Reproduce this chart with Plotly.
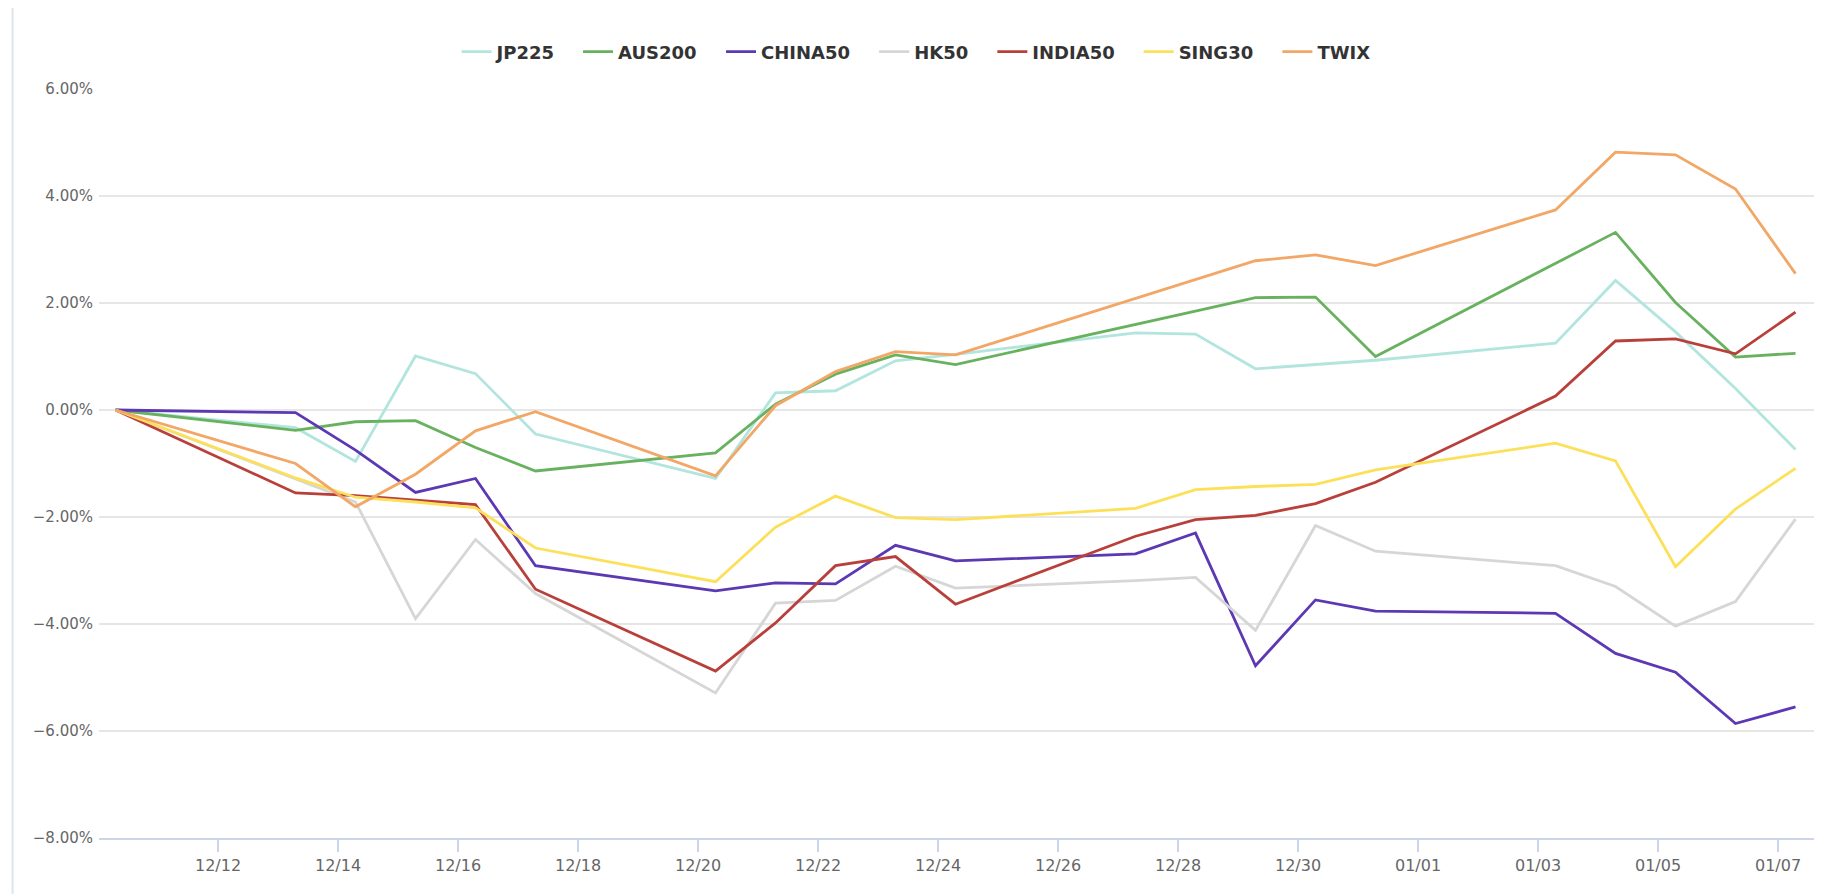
import plotly.graph_objects as go

dates = [
    "2021-12-10 07:00", "2021-12-13 07:00", "2021-12-14 07:00", "2021-12-15 07:00",
    "2021-12-16 07:00", "2021-12-17 07:00", "2021-12-20 07:00", "2021-12-21 07:00",
    "2021-12-22 07:00", "2021-12-23 07:00", "2021-12-24 07:00", "2021-12-27 07:00",
    "2021-12-28 07:00", "2021-12-29 07:00", "2021-12-30 07:00", "2021-12-31 07:00",
    "2022-01-03 07:00", "2022-01-04 07:00", "2022-01-05 07:00", "2022-01-06 07:00",
    "2022-01-07 07:00",
]

jp225 = [0, -0.33, -0.96, 1.01, 0.68, -0.45, -1.28, 0.32, 0.36, 0.92, 1.04,
         1.44, 1.42, 0.77, 0.85, 0.93, 1.25, 2.42, 1.46, 0.40, -0.74]
aus200 = [0, -0.38, -0.22, -0.20, -0.70, -1.14, -0.80, 0.11, 0.67, 1.03, 0.85,
          1.61, 1.85, 2.10, 2.11, 1.00, 2.74, 3.32, 2.01, 0.99, 1.06]
china50 = [0, -0.05, -0.75, -1.54, -1.28, -2.91, -3.38, -3.23, -3.25, -2.53, -2.82,
           -2.69, -2.30, -4.78, -3.55, -3.76, -3.80, -4.55, -4.90, -5.86, -5.55]
hk50 = [0, -1.30, -1.72, -3.90, -2.42, -3.43, -5.29, -3.61, -3.56, -2.92, -3.33,
        -3.19, -3.13, -4.12, -2.16, -2.64, -2.91, -3.30, -4.04, -3.58, -2.04]
india50 = [0, -1.55, -1.60, -1.69, -1.77, -3.35, -4.88, -3.98, -2.91, -2.74, -3.63,
           -2.36, -2.05, -1.97, -1.75, -1.35, 0.26, 1.29, 1.33, 1.05, 1.83]
sing30 = [0, -1.27, -1.63, -1.72, -1.83, -2.58, -3.21, -2.19, -1.61, -2.01, -2.05,
          -1.84, -1.49, -1.43, -1.39, -1.12, -0.62, -0.95, -2.93, -1.85, -1.09]
twix = [0, -1.00, -1.81, -1.20, -0.39, -0.03, -1.23, 0.08, 0.72, 1.09, 1.03,
        2.09, 2.45, 2.79, 2.90, 2.70, 3.74, 4.82, 4.77, 4.13, 2.55]

series_names = ["JP225", "AUS200", "CHINA50", "HK50", "INDIA50", "SING30", "TWIX"]
series_values = [jp225, aus200, china50, hk50, india50, sing30, twix]
series_colors = ["#b1e5dd", "#68b25f", "#5c38b3", "#d6d6d6", "#b9403a", "#fce05a", "#f2a766"]

# horizontal anchor (paper units) of each legend entry, centred over the chart
legend_x = [0.2085, 0.2793, 0.3627, 0.4520, 0.5209, 0.6062, 0.6871]

fig = go.Figure()
legend_layouts = {}
for i, (name, vals, col) in enumerate(zip(series_names, series_values, series_colors)):
    key = "legend" if i == 0 else f"legend{i + 1}"
    fig.add_trace(go.Scatter(
        x=dates, y=vals, name=name, mode="lines",
        line=dict(color=col, width=2.8),
        hoverinfo="skip",
        legend=key,
    ))
    legend_layouts[key] = dict(
        orientation="h", x=legend_x[i], xanchor="left", y=1.0494, yanchor="middle",
        font=dict(family="DejaVu Sans", size=18, color="#333333", weight="bold"),
        bgcolor="rgba(0,0,0,0)", borderwidth=0,
    )

fig.update_layout(
    width=1830, height=894,
    margin=dict(l=91, r=24, t=81, b=64),
    paper_bgcolor="white", plot_bgcolor="white",
    font=dict(family="DejaVu Sans", color="#666666", size=16),
    showlegend=True,
    xaxis=dict(
        type="date",
        range=["2021-12-10 00:24", "2022-01-07 14:24"],
        tick0="2021-12-12", dtick=2 * 86400000,
        tickformat="%m/%d",
        showgrid=False, zeroline=False,
        showline=True, linecolor="#ccd6eb", linewidth=1.5,
        ticks="outside", ticklen=12, tickcolor="#ccd6eb", tickwidth=1.5,
        tickfont=dict(size=16, color="#666666"),
    ),
    yaxis=dict(
        range=[-8, 6], dtick=2, tick0=0,
        tickformat=".2f", ticksuffix="%",
        showgrid=True, gridcolor="#e6e6e6", gridwidth=1.5,
        zeroline=False, showline=False,
        tickfont=dict(size=15, color="#666666"),
        ticklabelstandoff=5,
    ),
    shapes=[dict(
        type="rect", xref="paper", yref="paper",
        x0=-0.0504, x1=1.0093, y0=-0.0761, y1=1.112,
        line=dict(color="#dde5ea", width=2), fillcolor="rgba(0,0,0,0)",
        layer="below",
    )],
    **legend_layouts,
)

fig.write_html("out.html")
